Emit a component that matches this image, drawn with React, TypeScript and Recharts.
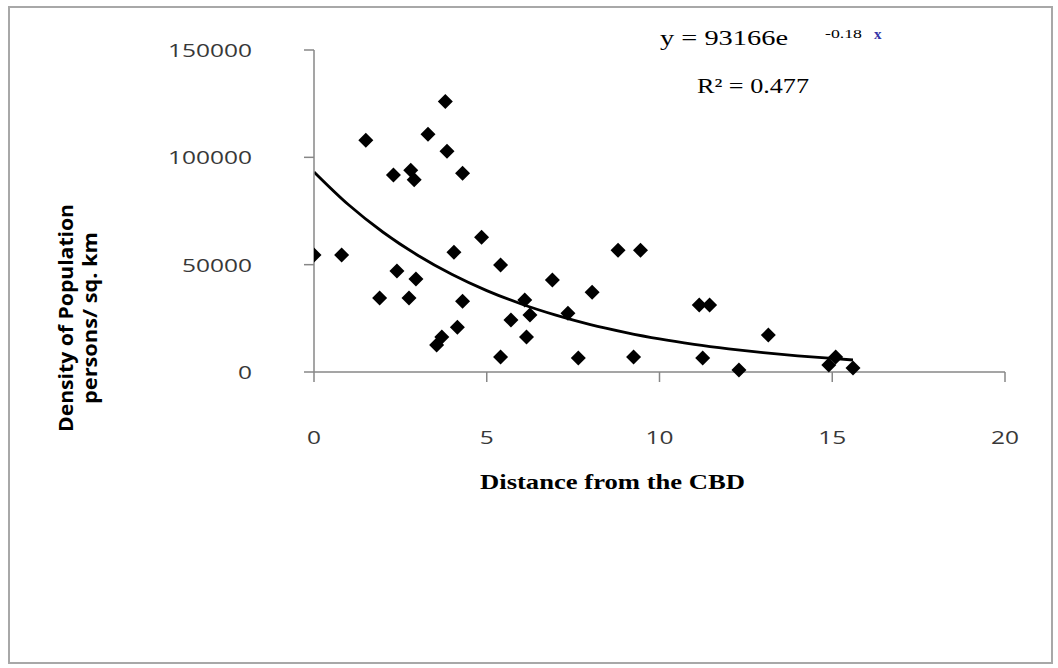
import React from 'react';
import { ComposedChart, Scatter, Line, XAxis, YAxis } from 'recharts';

const distance = [
  0, 0.8, 1.5, 1.9, 2.3, 2.4, 2.75, 2.8, 2.9, 2.95, 3.3, 3.8, 3.85, 4.3, 4.05, 4.3, 4.15, 3.7, 3.55,
  4.85, 5.4, 5.7, 5.4, 6.1, 6.25, 6.15, 6.9, 7.35, 7.65, 8.05, 8.8, 9.45, 9.25, 11.15, 11.45, 11.25,
  12.3, 13.15, 15.1, 14.9, 15.6,
];
const density = [
  54500, 54500, 108000, 34500, 91800, 47000, 34500, 94000, 89500, 43300, 110700, 126000, 102800,
  92600, 55800, 33000, 20900, 16300, 12600, 62800, 49800, 24200, 7000, 33500, 26500, 16300, 42800,
  27400, 6500, 37200, 56700, 56700, 7000, 31200, 31200, 6500, 900, 17200, 7000, 3300, 1900,
];

// exponential trend curve (y = 93166e^-0.18x) read along its length
const trendX = [0, 1, 2, 3, 4, 5, 6, 7, 8, 9, 10, 11, 12, 13, 14, 15, 15.6];
const trendY = [
  93200, 77900, 65100, 54400, 45400, 37900, 31700, 26500, 22100, 18500, 15400, 12900, 10800, 9000,
  7500, 6300, 5600,
];

const xTicks = [0, 5, 10, 15, 20];
const yTicks = [0, 50000, 100000, 150000];

const points = distance.map((x, i) => ({ x, y: density[i] }));
const trend = trendX.map((x, i) => ({ x, y: trendY[i] }));

const W = 1058;
const H = 668;

const Diamond = (props: any) => {
  const { cx, cy } = props;
  if (cx == null || cy == null) return null;
  const r = 7.5;
  return <path d={`M${cx},${cy - r}L${cx + r},${cy}L${cx},${cy + r}L${cx - r},${cy}Z`} fill="#000" />;
};

const tickText = (x: number, y: number, s: string, anchor: 'end' | 'middle') => (
  <text
    x={x}
    y={y}
    textAnchor={anchor}
    dominantBaseline="central"
    fontFamily="Open Sans"
    fontSize={18}
    fill="#383838"
    textLength={s.length * 14}
    lengthAdjust="spacingAndGlyphs"
  >
    {s}
  </text>
);

const YTick = (props: any) => tickText(props.x, props.y, String(props.payload.value), 'end');
const XTick = (props: any) => tickText(props.x, props.y, String(props.payload.value), 'middle');

export default function App() {
  return (
    <div style={{ position: 'fixed', left: 0, top: 0, width: W, height: H, background: '#fff' }}>
      <div
        style={{
          position: 'absolute',
          left: 8,
          top: 6,
          width: 1045,
          height: 658,
          border: '2px solid #a8a8a8',
          boxSizing: 'border-box',
        }}
      />
      <ComposedChart
        width={W}
        height={H}
        margin={{ top: 50, right: 53, bottom: 236, left: 234 }}
        style={{ position: 'absolute', left: 0, top: 0 }}
      >
        <XAxis
          type="number"
          dataKey="x"
          domain={[0, 20]}
          ticks={xTicks}
          interval={0}
          height={60}
          axisLine={{ stroke: '#878787', strokeWidth: 1.5 }}
          tickLine={{ stroke: '#878787', strokeWidth: 1.5 }}
          tickSize={10}
          tickMargin={55}
          tick={<XTick />}
          allowDataOverflow
        />
        <YAxis
          type="number"
          dataKey="y"
          domain={[0, 150000]}
          ticks={yTicks}
          interval={0}
          width={80}
          axisLine={{ stroke: '#878787', strokeWidth: 1.5 }}
          tickLine={{ stroke: '#878787', strokeWidth: 1.5 }}
          tickSize={10}
          tickMargin={52}
          tick={<YTick />}
        />
        <Line
          data={trend}
          dataKey="y"
          type="monotone"
          stroke="#000"
          strokeWidth={2.8}
          dot={false}
          activeDot={false}
          isAnimationActive={false}
        />
        <Scatter data={points} dataKey="y" shape={<Diamond />} isAnimationActive={false} />
      </ComposedChart>
      <svg width={W} height={H} style={{ position: 'absolute', left: 0, top: 0, pointerEvents: 'none' }}>
        <text
          transform="translate(66,318) rotate(-90)"
          textAnchor="middle"
          dominantBaseline="central"
          fontFamily="Open Sans"
          fontWeight="bold"
          fontSize={19}
          fill="#000"
          textLength={228}
          lengthAdjust="spacingAndGlyphs"
        >
          Density of Population
        </text>
        <text
          transform="translate(90,318) rotate(-90)"
          textAnchor="middle"
          dominantBaseline="central"
          fontFamily="Open Sans"
          fontWeight="bold"
          fontSize={19}
          fill="#000"
          textLength={172}
          lengthAdjust="spacingAndGlyphs"
        >
          persons/ sq. km
        </text>
        <text
          x={480}
          y={489}
          fontFamily="Liberation Serif"
          fontWeight="bold"
          fontSize={21}
          fill="#000"
          textLength={265}
          lengthAdjust="spacingAndGlyphs"
        >
          Distance from the CBD
        </text>
        <text x={660} y={45} fontFamily="Liberation Serif" fontSize={21} fill="#000" textLength={128} lengthAdjust="spacingAndGlyphs">
          y = 93166e
        </text>
        <text x={825} y={38} fontFamily="Liberation Serif" fontSize={13} fill="#000" textLength={37} lengthAdjust="spacingAndGlyphs">
          -0.18
        </text>
        <text x={874} y={39} fontFamily="Liberation Serif" fontWeight="bold" fontSize={15} fill="#3636a8">
          x
        </text>
        <text x={697} y={93} fontFamily="Liberation Serif" fontSize={21} fill="#000" textLength={112} lengthAdjust="spacingAndGlyphs">
          R² = 0.477
        </text>
      </svg>
    </div>
  );
}
